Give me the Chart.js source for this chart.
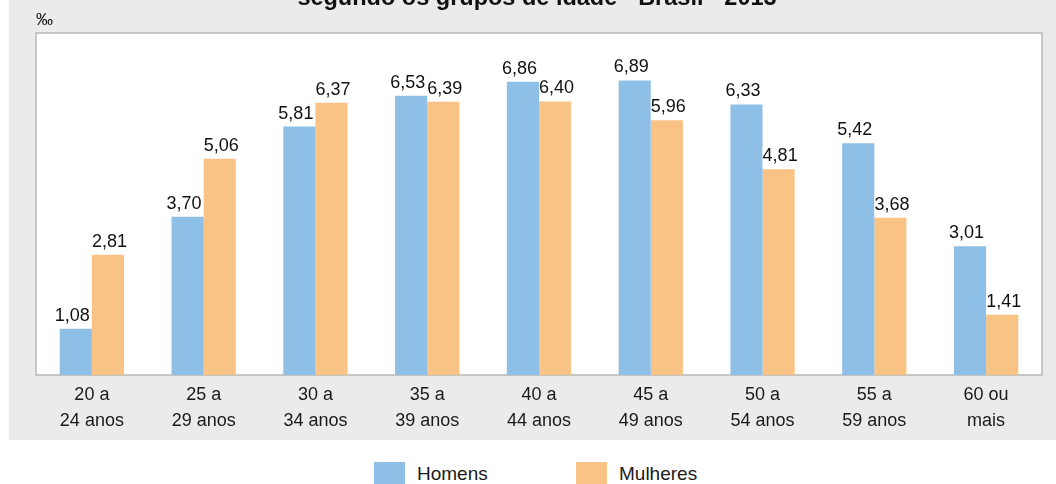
<!DOCTYPE html>
<html>
<head>
<meta charset="utf-8">
<script src="https://cdn.jsdelivr.net/npm/chart.js@4.4.1/dist/chart.umd.min.js"></script>
<style>
  html, body { margin: 0; padding: 0; background: #fff; overflow: hidden; }
  #wrap { position: relative; width: 1056px; height: 440px; }
  #legend { position: absolute; left: 374px; top: 462px; display: flex; font: 19px Arial, "Liberation Sans", sans-serif; color: #1a1a1a; }
  #legend .item { display: flex; align-items: center; height: 24px; }
  #legend .box { width: 31px; height: 22px; margin-right: 12px; align-self: flex-start; }
</style>
</head>
<body>
<div id="wrap"><canvas id="grafico"></canvas></div>
<div id="legend"></div>
<script>
// dados
var categorias = [['20 a', '24 anos'], ['25 a', '29 anos'], ['30 a', '34 anos'], ['35 a', '39 anos'],
    ['40 a', '44 anos'], ['45 a', '49 anos'], ['50 a', '54 anos'], ['55 a', '59 anos'], ['60 ou', 'mais']];
var homens = [1.08, 3.70, 5.81, 6.53, 6.86, 6.89, 6.33, 5.42, 3.01];
var mulheres = [2.81, 5.06, 6.37, 6.39, 6.40, 5.96, 4.81, 3.68, 1.41];
var series = ['Homens', 'Mulheres'];
var cores = ['#8ebfe7', '#f9c386'];
var titulo = 'segundo os grupos de idade - Brasil - 2013';
var unidade = '\u2030';

var fonte = 'Arial, "Liberation Sans", sans-serif';

// fundo cinza, area branca e textos
var fundoPlugin = {
    id: 'fundo',
    beforeDraw: function (chart) {
        var ctx = chart.ctx, a = chart.chartArea;
        ctx.save();
        ctx.fillStyle = '#ebebeb';
        ctx.fillRect(9, 0, chart.width - 9, chart.height);
        ctx.fillStyle = '#ffffff';
        ctx.fillRect(a.left, a.top, a.right - a.left, a.bottom - a.top);
        ctx.strokeStyle = '#b8b8b8';
        ctx.lineWidth = 1.5;
        ctx.strokeRect(a.left, a.top, a.right - a.left, a.bottom - a.top);

        ctx.fillStyle = '#111';
        ctx.font = 'bold 23.5px ' + fonte;
        ctx.textAlign = 'center';
        ctx.textBaseline = 'alphabetic';
        ctx.fillText(titulo, 537, 5);

        ctx.font = '17px ' + fonte;
        ctx.textAlign = 'left';
        ctx.fillText(unidade, 36, 25);
        ctx.restore();
    }
};

// rotulos de valor sobre as barras
var rotulosPlugin = {
    id: 'rotulos',
    afterDatasetsDraw: function (chart) {
        var ctx = chart.ctx;
        ctx.save();
        ctx.font = '18px ' + fonte;
        ctx.textAlign = 'center';
        ctx.textBaseline = 'alphabetic';
        var m0 = chart.getDatasetMeta(0), m1 = chart.getDatasetMeta(1);
        for (var i = 0; i < categorias.length; i++) {
            var b0 = m0.data[i], b1 = m1.data[i];
            var t0 = homens[i].toFixed(2).replace('.', ',');
            var t1 = mulheres[i].toFixed(2).replace('.', ',');
            var w0 = ctx.measureText(t0).width, w1 = ctx.measureText(t1).width;
            var x0 = b0.x - 3.5, x1 = b1.x + 1.5;
            var y0 = b0.y - 8, y1 = b1.y - 8;
            // afasta rotulos que se sobrepoem
            if (Math.abs(y0 - y1) < 14) {
                var sobra = (x0 + w0 / 2) - (x1 - w1 / 2);
                if (sobra > 0) { x0 -= sobra / 2 + 1; x1 += sobra / 2 + 1; }
            }
            [[t0, x0, y0, w0], [t1, x1, y1, w1]].forEach(function (r) {
                ctx.fillStyle = '#ffffff';
                ctx.fillRect(r[1] - r[3] / 2, r[2] - 15, r[3], 19);
                ctx.fillStyle = '#111';
                ctx.fillText(r[0], r[1], r[2]);
            });
        }
        ctx.restore();
    }
};

var ctx = document.getElementById('grafico').getContext('2d');
var grafico = new Chart(ctx, {
    type: 'bar',
    data: {
        labels: categorias,
        datasets: [{
            label: series[0],
            data: homens,
            backgroundColor: cores[0],
            categoryPercentage: 0.575,
            barPercentage: 1.0
        }, {
            label: series[1],
            data: mulheres,
            backgroundColor: cores[1],
            categoryPercentage: 0.575,
            barPercentage: 1.0
        }]
    },
    options: {
        responsive: true,
        maintainAspectRatio: false,
        animation: false,
        layout: {
            padding: { left: 36, right: 14, top: 33, bottom: 0 }
        },
        scales: {
            x: {
                grid: { display: false },
                border: { display: false },
                ticks: {
                    color: '#1a1a1a',
                    padding: -1,
                    maxRotation: 0,
                    font: { family: fonte, size: 18, lineHeight: 1.45 }
                },
                afterFit: function (scale) { scale.height = 65; }
            },
            y: {
                display: false,
                min: 0,
                max: 8
            }
        },
        plugins: {
            legend: { display: false },
            tooltip: { enabled: false }
        }
    },
    plugins: [fundoPlugin, rotulosPlugin]
});

// legenda em html
var legenda = document.getElementById('legend');
series.forEach(function (nome, i) {
    var item = document.createElement('div');
    item.className = 'item';
    if (i === 0) item.style.width = '202px';
    var caixa = document.createElement('span');
    caixa.className = 'box';
    caixa.style.background = cores[i];
    var texto = document.createElement('span');
    texto.textContent = nome;
    item.appendChild(caixa);
    item.appendChild(texto);
    legenda.appendChild(item);
});
</script>
</body>
</html>
